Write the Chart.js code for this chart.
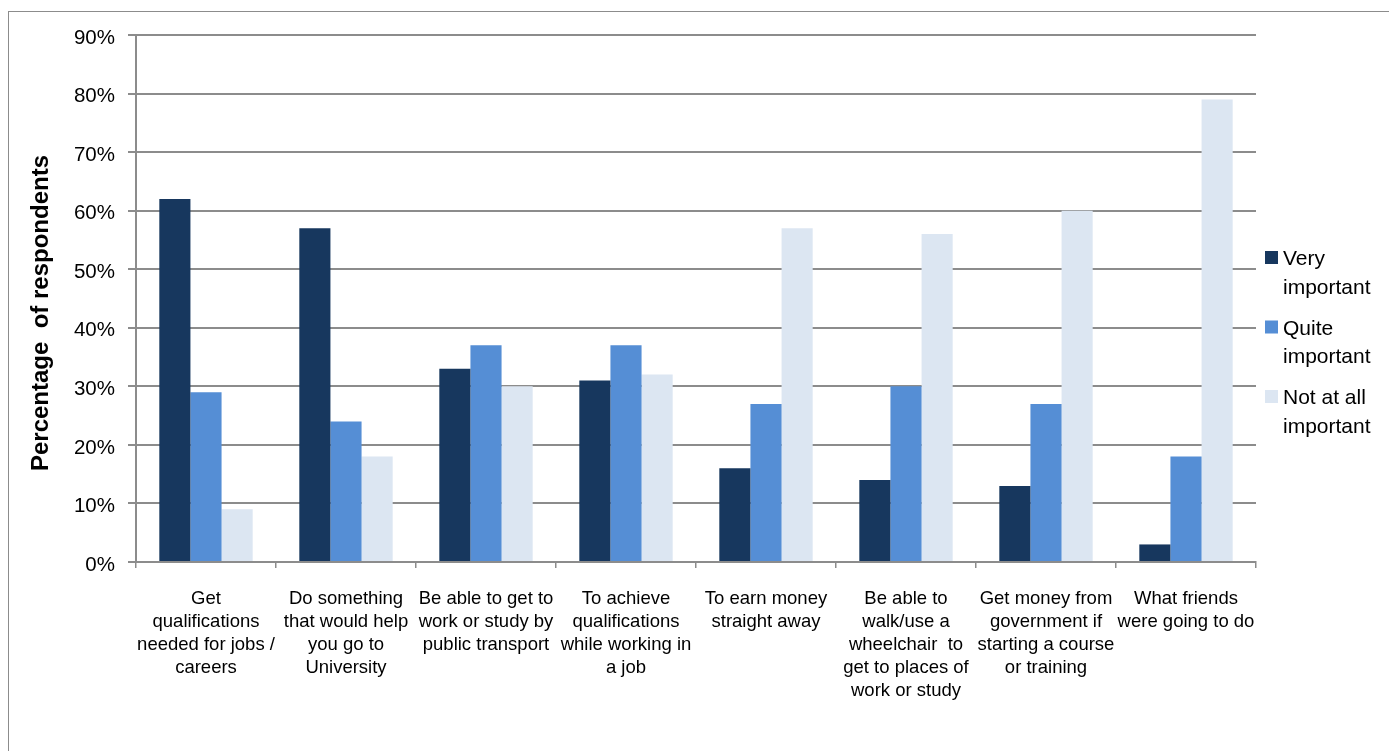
<!DOCTYPE html>
<html>
<head>
<meta charset="utf-8">
<script src="https://cdn.jsdelivr.net/npm/chart.js@4.4.1/dist/chart.umd.min.js"></script>
<style>
  html, body { margin: 0; padding: 0; background: #ffffff; overflow: hidden; }
  #wrap { position: relative; width: 1389px; height: 751px; }
  #frame { position: absolute; left: 8px; top: 11px; width: 1420px; height: 780px;
           border: 1.5px solid #8c8c8c; box-sizing: border-box; pointer-events: none; }
  canvas { position: absolute; left: 0; top: 0; }
</style>
</head>
<body>
<div id="wrap">
  <div id="frame"></div>
  <canvas id="chart" width="1389" height="751"></canvas>
</div>
<script>
// Survey categories (multi-line labels)
const categories = [
  ["Get", "qualifications", "needed for jobs /", "careers"],
  ["Do something", "that would help", "you go to", "University"],
  ["Be able to get to", "work or study by", "public transport"],
  ["To achieve", "qualifications", "while working in", "a job"],
  ["To earn money", "straight away"],
  ["Be able to", "walk/use a", "wheelchair  to", "get to places of", "work or study"],
  ["Get money from", "government if", "starting a course", "or training"],
  ["What friends", "were going to do"]
];

// Percentage of respondents per rating
const veryImportant  = [62, 57, 33, 31, 16, 14, 13, 3];
const quiteImportant = [29, 24, 37, 37, 27, 30, 27, 18];
const notImportant   = [9, 18, 30, 32, 57, 56, 60, 79];

const seriesNames = [["Very", "important"], ["Quite", "important"], ["Not at all", "important"]];
const seriesColors = ["#17375e", "#558ed5", "#dce6f2"];

const yTicks = [0, 10, 20, 30, 40, 50, 60, 70, 80, 90];

const FONT = "'Liberation Sans', Arial, sans-serif";
const GRID = "#8c8c8c";

// Legend with two-line entries, drawn to the right of the plot
const sideLegend = {
  id: "sideLegend",
  afterDraw(chart) {
    const ctx = chart.ctx;
    ctx.save();
    ctx.font = "21px " + FONT;
    ctx.fillStyle = "#000000";
    ctx.textBaseline = "alphabetic";
    ctx.textAlign = "left";
    const x0 = 1265, baseY = 265, step = 69.5, lineH = 28.5;
    seriesNames.forEach((lines, i) => {
      const y = baseY + i * step;
      ctx.fillStyle = seriesColors[i];
      ctx.fillRect(x0, y - 14, 13, 13);
      ctx.fillStyle = "#000000";
      lines.forEach((t, j) => ctx.fillText(t, x0 + 18, y + j * lineH));
    });
    ctx.restore();
  }
};

// Rotated axis title on the left
const yTitle = {
  id: "yTitle",
  afterDraw(chart) {
    const ctx = chart.ctx;
    ctx.save();
    ctx.translate(48, 313);
    ctx.rotate(-Math.PI / 2);
    ctx.font = "bold 24px " + FONT;
    ctx.fillStyle = "#000000";
    ctx.textAlign = "center";
    ctx.textBaseline = "alphabetic";
    ctx.fillText("Percentage  of respondents", 0, 0);
    ctx.restore();
  }
};

const datasets = [veryImportant, quiteImportant, notImportant].map((d, i) => ({
  label: seriesNames[i].join(" "),
  data: d,
  backgroundColor: seriesColors[i],
  borderWidth: 0,
  categoryPercentage: 0.667,
  barPercentage: 1.0
}));

new Chart(document.getElementById("chart"), {
  type: "bar",
  data: { labels: categories, datasets },
  options: {
    responsive: false,
    animation: false,
    devicePixelRatio: 1,
    layout: { padding: { left: 8, right: 133, top: 35, bottom: 0 } },
    plugins: { legend: { display: false }, tooltip: { enabled: false } },
    scales: {
      x: {
        grid: { display: true, drawOnChartArea: false, drawTicks: true, tickLength: 6,
                offset: true, color: GRID, lineWidth: 1.5 },
        border: { display: true, color: GRID, width: 2 },
        ticks: {
          autoSkip: false, maxRotation: 0, minRotation: 0, padding: 19,
          color: "#000000",
          font: { family: FONT, size: 18.5, lineHeight: 1.25 }
        },
        afterFit(scale) { scale.height = 751 - 562; }
      },
      y: {
        min: 0, max: 90,
        afterBuildTicks(scale) { scale.ticks = yTicks.map(v => ({ value: v })); },
        grid: { color: GRID, lineWidth: 2, tickLength: 8, drawTicks: true },
        border: { display: true, color: GRID, width: 2 },
        ticks: {
          padding: 13, color: "#000000", labelOffset: 3,
          font: { family: FONT, size: 20.5 },
          callback: v => v + "%"
        },
        afterFit(scale) { scale.width = 128; }
      }
    }
  },
  plugins: [sideLegend, yTitle]
});
</script>
</body>
</html>
